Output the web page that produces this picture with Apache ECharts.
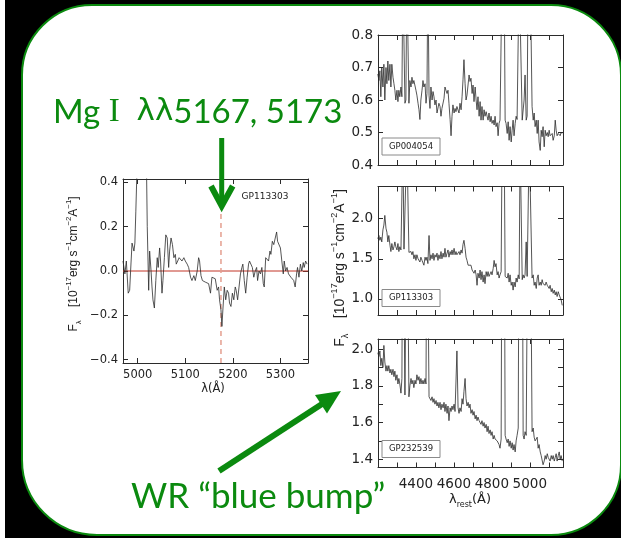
<!DOCTYPE html>
<html>
<head>
<meta charset="utf-8">
<script src="https://cdn.jsdelivr.net/npm/echarts@6/dist/echarts.min.js"></script>
<style>
  html, body { margin: 0; padding: 0; background: #000; }
  #chart { width: 621px; height: 538px; }
</style>
</head>
<body>
<div id="chart"></div>
<script>
// ---- GP113303 zoom on the Mg I region (continuum subtracted) ----
const mgWave = [
  4969,4973,4976,4980,4983,4985,4988,4992,4994,4996,
  4999,5001,5009,5017,5020,5023,5025,5028,5030,5032,
  5035,5038,5041,5043,5046,5048,5051,5053,5056,5059,
  5062,5065,5067,5070,5073,5076,5079,5081,5084,5087,
  5090,5093,5097,5100,5104,5107,5111,5114,5118,5121,
  5125,5128,5130,5133,5136,5139,5142,5146,5149,5153,
  5156,5160,5163,5167,5170,5172,5175,5177,5179,5182,
  5185,5188,5191,5193,5196,5199,5202,5205,5207,5210,
  5213,5216,5219,5221,5224,5227,5230,5233,5235,5238,
  5241,5244,5247,5250,5252,5255,5258,5261,5264,5266,
  5269,5272,5275,5278,5280,5283,5286,5289,5292,5294,
  5297,5300,5303,5306,5308,5311,5314,5317,5320,5322,
  5325,5328,5331,5334,5336,5339,5342,5345,5348,5350,
  5353,5356
];
const mgFlux = [
  0.045,-0.013,0.045,-0.10,-0.087,0.0,0.126,0.09,0.126,0.27,
  0.5,0.8,0.9,0.7,0.2,-0.087,0.09,0.0,-0.072,-0.13,
  -0.167,-0.043,0.06,0.016,0.104,0.045,-0.10,-0.043,0.06,0.163,
  0.149,0.016,0.09,0.149,0.119,0.06,0.075,0.031,0.045,0.06,
  0.053,0.045,0.06,0.045,0.031,0.016,-0.028,-0.043,-0.021,-0.043,
  0.0,0.06,0.045,-0.021,-0.043,-0.035,-0.05,-0.057,-0.057,-0.10,
  -0.028,-0.021,-0.035,-0.087,-0.072,-0.13,-0.176,-0.25,-0.176,-0.072,
  -0.13,-0.087,-0.10,-0.145,-0.16,-0.10,-0.13,-0.072,-0.087,-0.13,
  -0.072,-0.013,0.016,0.031,-0.043,-0.10,-0.028,0.031,0.045,0.045,
  0.016,-0.028,0.0,0.016,-0.043,0.0,-0.013,0.016,-0.057,-0.072,
  0.06,0.068,0.045,0.09,0.075,0.134,0.119,0.119,0.176,0.134,
  0.134,0.104,0.045,-0.013,0.045,0.0,0.016,-0.013,-0.006,-0.028,
  -0.021,-0.043,-0.072,-0.013,0.016,-0.028,0.031,0.0,0.038,0.016,
  0.045,0.031
];
const mgLineWave = 5175;
const mgRange = [4969, 5358];

// ---- rest-frame spectra, shared wavelength grid (Å) ----
const restWave = [
  4199,4205,4210,4215,4220,4226,4231,4236,4242,4247,
  4252,4257,4263,4268,4273,4279,4284,4289,4294,4300,
  4305,4310,4315,4321,4326,4331,4337,4342,4347,4352,
  4358,4363,4368,4374,4379,4384,4389,4395,4400,4405,
  4411,4416,4421,4426,4432,4437,4442,4448,4453,4458,
  4463,4469,4474,4479,4485,4490,4495,4500,4506,4511,
  4516,4521,4527,4532,4537,4543,4548,4553,4558,4564,
  4569,4574,4580,4585,4590,4595,4601,4606,4611,4616,
  4622,4627,4632,4638,4643,4648,4653,4659,4664,4669,
  4675,4680,4685,4690,4696,4701,4706,4712,4717,4722,
  4727,4733,4738,4743,4748,4754,4759,4764,4770,4775,
  4780,4785,4791,4796,4801,4807,4812,4817,4822,4828,
  4833,4838,4843,4849,4854,4859,4865,4870,4875,4881,
  4886,4891,4896,4902,4907,4912,4917,4923,4928,4933,
  4939,4944,4949,4954,4960,4965,4970,4975,4981,4986,
  4991,4997,5002,5007,5012,5018,5023,5028,5034,5039,
  5044,5049,5055,5060,5065,5070,5076,5081,5086,5092,
  5097,5102,5107,5113,5118,5123,5129,5134,5139,5144,
  5150,5155,5160,5165,5171
];
const fluxGP004054 = [
  0.68,0.66,0.69,0.61,0.70,0.64,0.71,0.60,0.70,0.65,
  0.72,0.66,0.71,0.64,0.71,0.67,0.65,0.63,0.60,0.63,
  0.595,0.63,0.61,0.64,0.61,1.0,1.0,0.59,0.60,1.0,
  1.0,0.59,0.66,0.64,0.67,0.65,0.66,0.66,0.63,0.615,
  0.59,0.57,0.54,0.60,0.63,0.66,0.64,0.65,0.59,0.62,
  1.0,0.615,0.574,0.64,0.60,0.626,0.61,0.585,0.60,0.56,
  0.56,0.59,0.58,0.55,0.574,0.58,0.605,0.64,0.63,0.62,
  0.63,0.59,0.54,0.49,0.55,0.585,0.56,0.574,0.564,0.58,
  0.58,0.56,0.59,0.57,0.61,0.662,0.724,0.65,0.60,0.615,
  0.615,0.677,0.657,0.667,0.62,0.646,0.595,0.64,0.60,0.57,
  0.61,0.55,0.595,0.538,0.58,0.538,0.57,0.55,0.564,0.55,
  0.538,0.56,0.533,0.55,0.528,0.538,0.523,0.55,0.518,0.53,
  0.49,0.528,0.538,0.54,1.0,1.0,1.0,0.538,0.528,0.497,
  0.533,0.476,0.518,0.471,0.507,0.538,0.49,0.528,0.55,0.54,
  0.54,1.0,1.0,1.0,0.538,0.538,0.60,0.677,0.538,0.55,
  1.0,1.0,1.0,1.0,0.58,0.538,0.56,0.518,0.538,0.497,
  0.538,0.471,0.445,0.507,0.487,0.518,0.456,0.507,0.49,0.50,
  0.487,0.507,0.49,0.487,0.497,0.476,0.49,0.538,0.507,0.49,
  0.497,0.497,0.49,0.50,0.497
];
const fluxGP113303 = [
  1.75,1.79,1.73,1.77,1.71,1.86,1.92,2.04,1.88,1.83,
  1.71,1.79,1.67,1.59,1.69,1.61,1.65,1.71,1.65,1.61,
  1.69,1.59,1.65,1.61,1.63,3.0,1.62,1.60,1.62,3.0,
  3.0,1.58,1.57,1.59,1.55,1.59,1.50,1.55,1.48,1.55,
  1.50,1.52,1.46,1.52,1.48,1.50,1.42,1.52,1.48,1.52,
  1.44,1.79,1.48,1.55,1.50,1.57,1.48,1.55,1.52,1.57,
  1.48,1.55,1.50,1.59,1.50,1.57,1.52,1.63,1.52,1.57,
  1.61,1.52,1.59,1.55,1.61,1.55,1.63,1.55,1.59,1.55,
  1.57,1.59,1.55,1.61,1.57,1.68,1.73,1.63,1.52,1.48,
  1.42,1.44,1.40,1.42,1.36,1.38,1.32,1.36,1.30,1.17,
  1.32,1.26,1.36,1.24,1.34,1.21,1.30,1.19,1.34,1.28,
  1.34,1.28,1.30,1.34,1.30,1.38,1.48,1.40,1.44,1.30,
  1.34,1.26,1.30,1.34,3.0,3.0,3.0,1.28,1.30,1.26,
  1.32,1.21,1.30,1.17,1.21,1.11,1.21,1.15,1.26,1.21,
  1.30,1.25,3.0,3.0,1.24,1.30,1.26,1.30,1.71,1.28,
  1.26,3.0,3.0,3.0,1.26,1.30,1.17,1.21,1.13,1.26,
  1.30,1.17,1.21,1.17,1.24,1.19,1.21,1.17,1.21,1.17,
  1.19,1.13,1.17,1.09,1.13,1.07,1.11,1.05,1.09,1.03,
  1.09,1.05,1.07,0.99,0.92
];
const fluxGP232539 = [
  1.98,1.96,1.99,1.91,1.95,1.90,2.02,1.93,1.88,1.91,
  1.88,1.91,1.87,1.89,1.86,1.89,1.85,1.88,1.83,1.86,
  1.81,1.84,1.81,1.76,1.84,3.0,3.0,1.75,1.74,3.0,
  3.0,1.74,1.80,1.84,1.81,1.83,1.79,1.83,1.81,1.86,
  1.83,1.85,1.81,1.84,1.81,1.83,1.81,1.84,1.81,3.0,
  3.0,1.74,1.75,1.72,1.74,1.71,1.73,1.70,1.72,1.69,
  1.71,1.68,1.71,1.67,1.70,1.68,1.71,1.66,1.70,1.65,
  1.69,1.61,1.68,1.66,1.69,1.67,1.70,1.66,1.67,1.99,
  1.68,1.65,1.68,1.66,1.73,1.70,1.77,1.84,1.73,1.69,
  1.71,1.68,1.70,1.65,1.67,1.64,1.66,1.62,1.64,1.61,
  1.63,1.61,1.62,1.59,1.61,1.58,1.60,1.57,1.59,1.55,
  1.58,1.54,1.56,1.53,1.55,1.51,1.53,1.51,1.52,1.50,
  1.51,1.48,1.46,1.51,3.0,3.0,3.0,1.53,1.51,1.49,
  1.51,1.47,1.50,1.46,1.49,1.45,1.48,1.44,1.50,1.53,
  1.57,3.0,3.0,3.0,3.0,1.53,1.51,1.55,1.53,1.53,
  3.0,3.0,3.0,3.0,1.55,1.57,1.52,1.50,1.51,1.52,
  1.46,1.48,1.44,1.42,1.41,1.37,1.39,1.42,1.40,1.43,
  1.41,1.42,1.39,1.42,1.40,1.42,1.39,1.41,1.43,1.39,
  1.42,1.44,1.40,1.42,1.39
];

// ---- axis ticks and labels ----
const mgTicksX = [5000, 5100, 5200, 5300];
const mgTicksY = [-0.4, -0.2, 0.0, 0.2, 0.4];
const restTicksX = [4300, 4400, 4500, 4600, 4700, 4800, 4900, 5000, 5100];
const restLabelsX = [4400, 4600, 4800, 5000];
const ticksY1 = [0.4, 0.5, 0.6, 0.7, 0.8];
const ticksY2 = [1.0, 1.5, 2.0];
const ticksY3 = [1.4, 1.5, 1.6, 1.7, 1.8, 1.9, 2.0];
const labelsY3 = [1.4, 1.6, 1.8, 2.0];

const GREEN = '#0b8a0f';
const INK = '#2b2b2b';
const AXIS_FONT = 'DejaVu Sans';

const chart = echarts.init(document.getElementById('chart'), null, { renderer: 'canvas' });

const fmt = v => v.toFixed(1).replace('-', '\u2212');

function boxAxes(g, xr, yr, xTicks, xLabels, yTicks, yLabels, fs, xMargin) {
  const line = { show: true, onZero: false, lineStyle: { color: INK, width: 1 } };
  const tick = (vals) => ({ show: true, inside: true, length: 5, customValues: vals, lineStyle: { color: INK, width: 1 } });
  const lab = (vals, extra) => Object.assign({ show: true, customValues: vals, color: '#222', fontFamily: AXIS_FONT, fontSize: fs }, extra);
  const xa = [
    { gridIndex: g, type: 'value', min: xr[0], max: xr[1], position: 'bottom', axisLine: line, axisTick: tick(xTicks),
      axisLabel: lab(xLabels, { margin: xMargin, formatter: v => String(v) }), splitLine: { show: false } },
    { gridIndex: g, type: 'value', min: xr[0], max: xr[1], position: 'top', axisLine: line, axisTick: tick(xTicks),
      axisLabel: { show: false }, splitLine: { show: false } }
  ];
  const ya = [
    { gridIndex: g, type: 'value', min: yr[0], max: yr[1], position: 'left', axisLine: line, axisTick: tick(yTicks),
      axisLabel: lab(yLabels, { margin: 5, formatter: fmt }), splitLine: { show: false } },
    { gridIndex: g, type: 'value', min: yr[0], max: yr[1], position: 'right', axisLine: line, axisTick: tick(yTicks),
      axisLabel: { show: false }, splitLine: { show: false } }
  ];
  return { xa, ya };
}

const a0 = boxAxes(0, mgRange, [-0.415, 0.415], mgTicksX, mgTicksX, mgTicksY, mgTicksY, 11.5, 6);
const a1 = boxAxes(1, [4200, 5175], [0.4, 0.8], restTicksX, [], ticksY1, ticksY1, 13.5, 9);
const a2 = boxAxes(2, [4200, 5175], [0.8, 2.4], restTicksX, [], ticksY2, ticksY2, 13.5, 9);
const a3 = boxAxes(3, [4200, 5175], [1.355, 2.055], restTicksX, restLabelsX, ticksY3, labelsY3, 13.5, 10);

const pairs = (xs, ys) => xs.map((x, i) => [x, ys[i]]);
const specSeries = (idx, data) => ({
  type: 'line', xAxisIndex: idx, yAxisIndex: idx, data, showSymbol: false, symbol: 'none',
  lineStyle: { color: INK, width: 0.8 }, clip: true, silent: true, z: 3
});

// zero level of the continuum-subtracted spectrum
const zeroLine = {
  type: 'line', xAxisIndex: 0, yAxisIndex: 0, data: [[mgRange[0], 0], [mgRange[1], 0]],
  showSymbol: false, symbol: 'none', lineStyle: { color: '#c23426', width: 1 }, silent: true, z: 2
};
// Mg I line position
const mgMarker = {
  type: 'line', xAxisIndex: 0, yAxisIndex: 0, data: [[mgLineWave, -0.415], [mgLineWave, 0.415]],
  showSymbol: false, symbol: 'none', lineStyle: { color: '#e49e8f', width: 1.5, type: [5, 4] }, silent: true, z: 2
};

const labelBox = (x, y, text) => ([
  { type: 'rect', shape: { x, y, width: 58, height: 17 }, style: { fill: '#fff', stroke: '#8a8a8a', lineWidth: 1 }, z: 50 },
  { type: 'text', x: x + 29, y: y + 8.5, style: { text, fill: '#222', fontFamily: AXIS_FONT, fontSize: 8.5, textAlign: 'center', textVerticalAlign: 'middle' }, z: 51 }
]);

const fluxTitleRich = (fs) => ({
  t: { fontSize: fs, fontFamily: 'Liberation Sans', fill: '#222', lineHeight: fs + 6, verticalAlign: 'middle' },
  sup: { fontSize: fs * 0.65, fontFamily: 'Liberation Sans', fill: '#222', lineHeight: fs * 0.8, verticalAlign: 'top' },
  sub: { fontSize: fs * 0.65, fontFamily: 'Liberation Sans', fill: '#222', lineHeight: fs * 0.8, verticalAlign: 'bottom' }
});
const fluxTitle = '{t|F}{sub|\u03bb}{t|    [10}{sup|\u221217}{t|erg s}{sup|\u22121}{t|cm}{sup|\u22122}{t|A}{sup|\u22121}{t|]}';

const arrowTip = [341, 391];
const arrowTail = [219, 471];

chart.setOption({
  animation: false,
  backgroundColor: '#000',
  grid: [
    { left: 123, top: 179, width: 185, height: 184, show: false },
    { left: 378, top: 35, width: 185, height: 130, show: false },
    { left: 378, top: 186.5, width: 185, height: 128.5, show: false },
    { left: 378, top: 339, width: 185, height: 128.5, show: false }
  ],
  xAxis: [...a0.xa, ...a1.xa, ...a2.xa, ...a3.xa],
  yAxis: [...a0.ya, ...a1.ya, ...a2.ya, ...a3.ya],
  series: [
    zeroLine,
    mgMarker,
    specSeries(0, pairs(mgWave, mgFlux)),
    specSeries(2, pairs(restWave, fluxGP004054)),
    specSeries(4, pairs(restWave, fluxGP113303)),
    specSeries(6, pairs(restWave, fluxGP232539))
  ],
  graphic: { elements: [
    // slide panel
    { type: 'rect', shape: { x: 0, y: 0, width: 5, height: 538 }, style: { fill: '#fff' }, z: -20 },
    { type: 'rect', shape: { x: 22, y: 5, width: 599, height: 530, r: [70, 70, 70, 75] },
      style: { fill: '#fff', stroke: GREEN, lineWidth: 2 }, z: -10 },

    // panel annotations
    { type: 'text', x: 265, y: 197, style: { text: 'GP113303', fill: '#222', fontFamily: AXIS_FONT, fontSize: 9, textAlign: 'center', textVerticalAlign: 'middle' }, z: 50 },
    ...labelBox(382, 138, 'GP004054'),
    ...labelBox(382, 289.5, 'GP113303'),
    ...labelBox(382, 440.5, 'GP232539'),

    // axis titles
    { type: 'text', x: 213, y: 389, style: { text: '\u03bb(\u00c5)', fill: '#222', fontFamily: AXIS_FONT, fontSize: 11.5, textAlign: 'center', textVerticalAlign: 'middle' }, z: 50 },
    { type: 'text', x: 470, y: 500, style: {
        text: '{a|\u03bb}{s|rest}{a|(\u00c5)}',
        rich: {
          a: { fontSize: 13, fontFamily: AXIS_FONT, fill: '#222', lineHeight: 18, verticalAlign: 'middle' },
          s: { fontSize: 8, fontFamily: AXIS_FONT, fill: '#222', lineHeight: 11, verticalAlign: 'bottom' }
        },
        textAlign: 'center', textVerticalAlign: 'middle' }, z: 50 },
    { type: 'text', x: 74, y: 264, rotation: Math.PI / 2,
      style: { text: fluxTitle, rich: fluxTitleRich(12), textAlign: 'center', textVerticalAlign: 'middle' }, z: 50 },
    { type: 'text', x: 340, y: 268, rotation: Math.PI / 2,
      style: { text: fluxTitle, rich: fluxTitleRich(14), textAlign: 'center', textVerticalAlign: 'middle' }, z: 50 },

    // Mg I callout
    { type: 'text', x: 53, y: 112, style: {
        text: '{a|Mg }{b|I}{a|  }{c|\u03bb\u03bb}{a|5167, 5173}',
        rich: {
          a: { fontSize: 33, fontFamily: 'Lato', fill: GREEN },
          b: { fontSize: 33, fontFamily: 'Liberation Serif', fill: GREEN },
          c: { fontSize: 31, fontFamily: 'DejaVu Sans', fill: GREEN }
        },
        textAlign: 'left', textVerticalAlign: 'middle' }, z: 60 },
    { type: 'line', shape: { x1: 221.7, y1: 138, x2: 221.7, y2: 204 }, style: { stroke: GREEN, lineWidth: 5 }, z: 60 },
    { type: 'polyline', shape: { points: [[211, 186], [221.7, 206], [232.7, 186]] },
      style: { stroke: GREEN, lineWidth: 6, lineJoin: 'miter', fill: null }, z: 60 },

    // WR blue-bump callout
    { type: 'text', x: 131, y: 497, style: {
        text: 'WR \u201cblue bump\u201d', fill: GREEN, fontFamily: 'Lato', fontSize: 35,
        textAlign: 'left', textVerticalAlign: 'middle' }, z: 60 },
    { type: 'line', shape: { x1: arrowTail[0], y1: arrowTail[1], x2: 322, y2: 404 }, style: { stroke: GREEN, lineWidth: 6 }, z: 60 },
    { type: 'polygon', shape: { points: [arrowTip, [327, 413.4], [315, 395]] }, style: { fill: GREEN }, z: 60 }
  ] }
});
</script>
</body>
</html>
